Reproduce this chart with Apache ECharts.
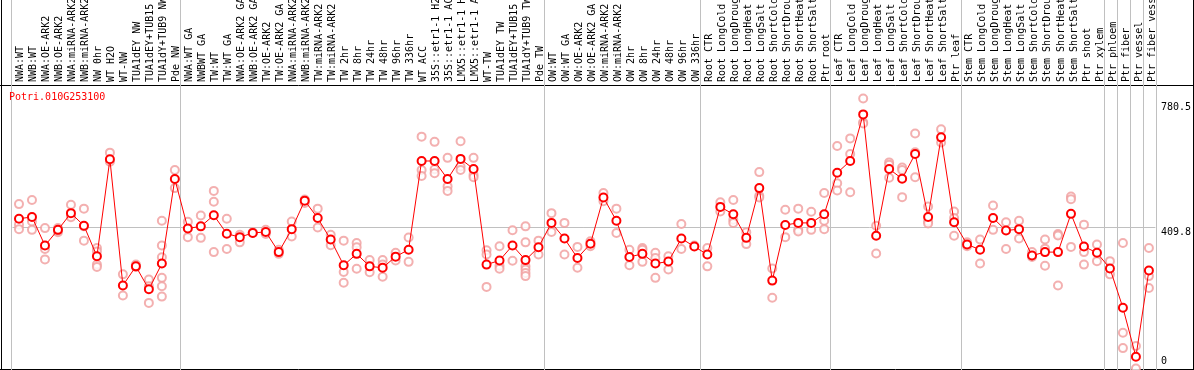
<!DOCTYPE html>
<html>
<head>
<meta charset="utf-8">
<script src="https://cdn.jsdelivr.net/npm/echarts@6/dist/echarts.min.js"></script>
<style>
html,body{margin:0;padding:0;background:#fff;}
#chart{width:1194px;height:370px;}
</style>
</head>
<body>
<div id="chart"></div>
<script>
const geneName = 'Potri.010G253100';

const categories = [
  'NWA:WT','NWB:WT','NWA:OE-ARK2','NWB:OE-ARK2','NWA:miRNA-ARK2','NWB:miRNA-ARK2','NW 0hr','WT H2O','WT-NW','TUA1dEY NW','TUA1dEY+TUB15 NW','TUA1dY+TUB9 NW','Pde NW',
  'NWA:WT GA','NWBWT GA','TW:WT','TW:WT GA','NWA:OE-ARK2 GA','NWB:OE-ARK2 GA','TW:OE-ARK2','TW:OE-ARK2 GA','NWA:miRNA-ARK2 GA','NWB:miRNA-ARK2 GA','TW:miRNA-ARK2','TW:miRNA-ARK2 GA',
  'TW 2hr','TW 8hr','TW 24hr','TW 48hr','TW 96hr','TW 336hr','WT ACC','35S::etr1-1 H2O','35S::etr1-1 ACC','LMX5::etr1-1 H2O','LMX5::etr1-1 ACC','WT-TW','TUA1dEY TW','TUA1dEY+TUB15 TW','TUA1dY+TUB9 TW','Pde TW',
  'OW:WT','OW:WT GA','OW:OE-ARK2','OW:OE-ARK2 GA','OW:miRNA-ARK2','OW:miRNA-ARK2 GA','OW 2hr','OW 8hr','OW 24hr','OW 48hr','OW 96hr','OW 336hr',
  'Root CTR','Root LongCold','Root LongDrought','Root LongHeat','Root LongSalt','Root ShortCold','Root ShortDrought','Root ShortHeat','Root ShortSalt','Ptr root',
  'Leaf CTR','Leaf LongCold','Leaf LongDrought','Leaf LongHeat','Leaf LongSalt','Leaf ShortCold','Leaf ShortDrought','Leaf ShortHeat','Leaf ShortSalt','Ptr leaf',
  'Stem CTR','Stem LongCold','Stem LongDrought','Stem LongHeat','Stem LongSalt','Stem ShortCold','Stem ShortDrought','Stem ShortHeat','Stem ShortSalt','Ptr shoot','Ptr xylem',
  'Ptr phloem','Ptr fiber','Ptr vessel','Ptr fiber vessel'
];

// number of categories in each group (separated by grey vertical lines)
const groupSizes = [13, 28, 12, 10, 10, 11, 1, 1, 1, 1];

const meanValues = [
  435,440,358,403,451,415,327,606,243,298,232,306,549,
  407,413,445,392,382,394,397,339,405,487,437,375,
  301,334,298,294,326,346,601,601,549,607,578,303,315,358,316,353,
  423,378,322,363,496,429,325,334,306,312,378,355,
  332,469,448,380,523,257,417,423,423,448,
  567,601,735,386,578,550,621,440,669,425,
  361,346,437,401,405,329,339,339,449,355,337,
  292,179,38,286
];

const replicateValues = [
  [477,418,405],[489,427,403],[408,348,318],[408,396,401],[475,442,439],[464,413,372],[351,341,303,296],[625,599],[275,214],[303,296],[260,241,193],[429,358,324,265,241,211],[575,523],
  [426,382],[444,380],[515,484,339],[435,348],[389,367],[394,396],[403,391],[346,334],[427,384],[480,490],[464,410],[389,359],
  [372,282,251],[365,353,291],[316,281],[316,303,268],[337,315],[381,311],[671,575,558],[656,577,566],[610,528,515],[658,585,575],[610,561,554],[344,332,239],[356,300,291],[402,314],[413,367,298,289,279,270],[372,332],
  [451,397],[423,332],[354,294],[356,370],[509,485],[464,394],[346,301],[351,346,311],[337,322,265],[327,289],[420,348],[358],
  [351,298],[482,456],[489,432,423],[396,362],[569,501,496],[292,208],[461,382],[464,403,398],[455,403],[509,429,405],
  [644,537,516],[666,621,511],[780.5,712,709],[415,335],[597,590,553],[582,575,497],[680,626,554],[470,427,421],[692,654],[456,437,386],
  [367,356],[375,306],[473,403],[425,348],[429,378],[339,325],[375,349,300],[391,387,243],[499,491,354],[418,339,303],[361,313],
  [313,275],[365,107,63],[69,4],[351,270,236]
];

const yTickValues = [0, 409.8, 780.5];
const referenceLineValue = 409.8;
const yMax = 819.5;

// ---- build ----
const groupStarts = [];
let acc = 0;
groupSizes.forEach(s => { groupStarts.push(acc); acc += s; });
const startSet = new Set(groupStarts);

const repData = [];
replicateValues.forEach((arr, i) => arr.forEach(v => repData.push([i, v])));

const mono = 'DejaVu Sans Mono';
const hidden = {show: false};

const chart = echarts.init(document.getElementById('chart'), null, {renderer: 'canvas'});
chart.setOption({
  animation: false,
  backgroundColor: '#ffffff',
  title: {
    text: geneName, left: 9, top: 92, padding: 0,
    textStyle: {fontFamily: mono, fontSize: 10, fontWeight: 'normal', color: '#ff0000'}
  },
  grid: [
    // 0: full-height grid carrying the grey group separators
    {left: 11, width: 1145, top: 0, height: 370, containLabel: false},
    // 1: header with the rotated category labels
    {left: 13.5, width: 1145, top: 0, height: 85, containLabel: false},
    // 2: plot area
    {left: 12.5, width: 1145, top: 85, height: 286, containLabel: false}
  ],
  xAxis: [
    {
      gridIndex: 0, type: 'category', data: categories,
      axisLine: hidden, axisTick: hidden, axisLabel: hidden,
      splitLine: {show: true, interval: (idx) => startSet.has(idx), lineStyle: {color: '#c0c0c0', width: 1}}
    },
    {
      gridIndex: 1, type: 'category', data: categories, position: 'bottom',
      axisLine: hidden, axisTick: hidden, splitLine: hidden,
      axisLabel: {
        show: true, inside: true, rotate: 90, interval: 0, margin: 3,
        fontFamily: mono, fontSize: 10, color: '#000',
        width: 86, overflow: 'truncate', ellipsis: ''
      }
    },
    {
      gridIndex: 2, type: 'category', data: categories,
      axisLine: hidden, axisTick: hidden, axisLabel: hidden, splitLine: hidden
    }
  ],
  yAxis: [
    {gridIndex: 0, type: 'value', show: false, splitLine: hidden},
    {gridIndex: 1, type: 'value', show: false, splitLine: hidden},
    {
      gridIndex: 2, type: 'value', min: 0, max: yMax, position: 'right',
      axisLine: hidden, axisTick: hidden, splitLine: hidden,
      axisLabel: {
        show: true, customValues: yTickValues, margin: 5.5, align: 'left',
        fontFamily: mono, fontSize: 10, color: '#000',
        formatter: function (v) {
          if (v === 0) return '{b|' + v + '}';
          if (v > 700) return '{h|' + v + '}';
          return '{m|' + v + '}';
        },
        rich: {
          b: {fontFamily: mono, fontSize: 10, color: '#000', padding: [0, 0, 18, 0]},
          m: {fontFamily: mono, fontSize: 10, color: '#000', padding: [10, 0, 0, 0]},
          h: {fontFamily: mono, fontSize: 10, color: '#000', padding: [17, 0, 0, 0]}
        }
      }
    }
  ],
  series: [
    {
      name: 'replicates', type: 'scatter', xAxisIndex: 2, yAxisIndex: 2,
      data: repData, symbol: 'emptyCircle', symbolSize: 8, z: 2,
      itemStyle: {color: '#f09c9c', borderColor: '#f09c9c', borderWidth: 1.5},
      silent: true
    },
    {
      name: 'mean', type: 'line', xAxisIndex: 2, yAxisIndex: 2,
      data: meanValues, symbol: 'emptyCircle', symbolSize: 8, showSymbol: true, z: 3,
      lineStyle: {color: '#ff0000', width: 1},
      itemStyle: {color: '#ff0000', borderColor: '#e80000', borderWidth: 2},
      markLine: {
        silent: true, symbol: ['none', 'none'], label: {show: false},
        lineStyle: {color: '#c0c0c0', width: 1, type: 'solid'},
        data: [{yAxis: referenceLineValue}], z: 1
      }
    }
  ],
  graphic: [
    {type: 'line', shape: {x1: 1.5, y1: 0, x2: 1.5, y2: 370}, style: {stroke: '#000', lineWidth: 1}, silent: true},
    {type: 'line', shape: {x1: 1193.5, y1: 0, x2: 1193.5, y2: 370}, style: {stroke: '#000', lineWidth: 1}, silent: true},
    {type: 'line', shape: {x1: 0, y1: 85.5, x2: 1194, y2: 85.5}, style: {stroke: '#000', lineWidth: 1}, silent: true},
    {type: 'line', shape: {x1: 0, y1: 369.5, x2: 1194, y2: 369.5}, style: {stroke: '#000', lineWidth: 1}, silent: true}
  ]
});
</script>
</body>
</html>
